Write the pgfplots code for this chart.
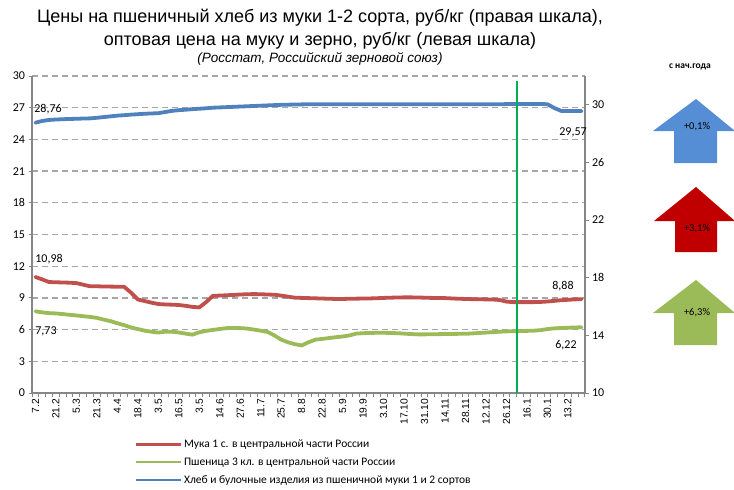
\documentclass[border=0pt]{standalone}
\usepackage{fontspec}
\setmainfont{Carlito}
\newfontfamily\arial{Liberation Sans}
\usepackage{pgfplots}
\pgfplotsset{compat=1.18}
\usepackage{pgfplotstable}

\definecolor{cred}{HTML}{C0504D}
\definecolor{cgreen}{HTML}{9BBB59}
\definecolor{cblue}{HTML}{4F81BD}
\definecolor{ablue}{HTML}{558ED5}
\definecolor{ared}{HTML}{C00000}
\definecolor{agreen}{HTML}{9BBB59}
\definecolor{vgreen}{HTML}{00B050}
\definecolor{gridc}{HTML}{A6A6A6}
\definecolor{axc}{HTML}{868686}

\pgfplotstableread{
i red green blue
0 10.98 7.73 28.76
1 10.75 7.63 28.88
2 10.50 7.56 28.95
3 10.48 7.53 28.98
4 10.46 7.47 29.00
5 10.44 7.40 29.02
6 10.40 7.34 29.03
7 10.25 7.27 29.05
8 10.10 7.20 29.06
9 10.10 7.11 29.10
10 10.08 6.95 29.15
11 10.07 6.80 29.20
12 10.06 6.60 29.25
13 10.05 6.42 29.28
14 9.50 6.20 29.32
15 8.85 6.05 29.35
16 8.70 5.90 29.38
17 8.55 5.80 29.40
18 8.42 5.72 29.42
19 8.38 5.80 29.50
20 8.36 5.80 29.58
21 8.33 5.73 29.63
22 8.25 5.62 29.66
23 8.15 5.52 29.70
24 8.10 5.75 29.73
25 8.60 5.88 29.76
26 9.20 5.97 29.80
27 9.22 6.06 29.82
28 9.25 6.14 29.84
29 9.28 6.15 29.86
30 9.32 6.14 29.88
31 9.35 6.10 29.90
32 9.36 6.00 29.92
33 9.35 5.90 29.94
34 9.32 5.78 29.96
35 9.30 5.45 29.98
36 9.22 5.05 30.00
37 9.12 4.80 30.01
38 9.02 4.62 30.02
39 9.00 4.50 30.03
40 8.98 4.80 30.04
41 8.96 5.05 30.04
42 8.94 5.12 30.04
43 8.92 5.20 30.04
44 8.90 5.28 30.04
45 8.90 5.35 30.04
46 8.92 5.45 30.04
47 8.93 5.62 30.04
48 8.94 5.66 30.04
49 8.95 5.68 30.04
50 8.97 5.70 30.04
51 9.00 5.70 30.04
52 9.02 5.68 30.04
53 9.04 5.66 30.04
54 9.05 5.62 30.04
55 9.05 5.58 30.04
56 9.04 5.55 30.04
57 9.02 5.55 30.04
58 9.00 5.56 30.04
59 9.00 5.57 30.04
60 8.98 5.58 30.04
61 8.95 5.59 30.04
62 8.92 5.60 30.04
63 8.90 5.60 30.04
64 8.88 5.64 30.04
65 8.87 5.68 30.04
66 8.86 5.72 30.04
67 8.85 5.76 30.04
68 8.80 5.80 30.04
69 8.65 5.83 30.05
70 8.60 5.85 30.06
71 8.60 5.86 30.06
72 8.60 5.88 30.06
73 8.60 5.90 30.06
74 8.62 5.95 30.06
75 8.66 6.05 30.04
76 8.72 6.12 29.78
77 8.78 6.15 29.58
78 8.82 6.18 29.57
79 8.86 6.20 29.57
80 8.88 6.22 29.57
}\data

\pgfplotsset{/pgf/number format/assume math mode=true}

\begin{document}
\begin{tikzpicture}
\useasboundingbox (0pt,0pt) rectangle (734pt,-490pt);

% titles
\node[font=\arial\fontsize{18}{20}\selectfont] at (320pt,-18pt) {Цены на пшеничный хлеб из муки 1-2 сорта, руб/кг (правая шкала),};
\node[font=\arial\fontsize{18}{20}\selectfont] at (320pt,-41pt) {оптовая цена на муку и зерно, руб/кг (левая шкала)};
\node[font=\arial\itshape\fontsize{13.5}{15}\selectfont] at (320pt,-59pt) {(Росстат, Российский зерновой союз)};

\begin{axis}[
  at={(32pt,-393pt)}, anchor=south west,
  scale only axis, width=553pt, height=317pt,
  xmin=-0.5, xmax=80.5, ymin=0, ymax=30,
  axis lines*=left,
  axis line style={draw=axc, line width=1.2pt},
  ytick={0,3,...,30},
  ymajorgrids,
  grid style={draw=gridc, dash pattern=on 6pt off 4pt, line width=1.3pt},
  xtick={0,3,...,78},
  xticklabels={7.2,21.2,5.3,21.3,4.4,18.4,3.5,16.5,3.5,14.6,27.6,11.7,25.7,8.8,22.8,5.9,19.9,3.10,17.10,31.10,14.11,28.11,12.12,26.12,16.1,30.1,13.2},
  minor xtick={-0.5,0.5,...,80.5},
  tick align=outside,
  major tick length=3.5pt, minor tick length=4pt,
  tick style={draw=axc, line width=1pt},
  major x tick style={draw=none},
  xticklabel style={font=\arial\fontsize{10.3}{12}\selectfont, rotate=90, anchor=east, inner sep=2pt},
  yticklabel style={font=\fontsize{12}{13}\selectfont},
  legend style={at={(0.186,-0.142)}, anchor=north west, draw=none, fill=none,
    font=\fontsize{11.5}{13}\selectfont, row sep=5.5pt, inner sep=0pt,
    nodes={inner sep=1.5pt}},
  legend cell align=left,
  legend image code/.code={\draw[#1, line width=2.5pt, line cap=butt] (0pt,0pt) -- (45pt,0pt);},
]
\addplot[cred, line width=3.8pt, line join=round, line cap=round] table[x=i,y=red]{\data};
\addlegendentry{Мука 1 с. в центральной части России}
\addplot[cgreen, line width=3.8pt, line join=round, line cap=round] table[x=i,y=green]{\data};
\addlegendentry{Пшеница 3 кл. в центральной части России}
\addlegendimage{cblue}
\addlegendentry{Хлеб и булочные изделия из пшеничной муки 1 и 2 сортов}
\end{axis}

\begin{axis}[
  at={(32pt,-393pt)}, anchor=south west,
  scale only axis, width=553pt, height=317pt,
  xmin=-0.5, xmax=80.5, ymin=10, ymax=32,
  axis x line=none, axis y line*=right,
  axis line style={draw=axc, line width=1.2pt},
  ytick={10,14,...,30},
  tick align=outside, major tick length=3.5pt,
  tick style={draw=axc, line width=1pt},
  yticklabel style={font=\fontsize{12}{13}\selectfont},
]
\addplot[cblue, line width=3.8pt, line join=round, line cap=round] table[x=i,y=blue]{\data};
\addplot[vgreen, line width=1.8pt] coordinates {(70.5,10) (70.5,31.64)};
\end{axis}

% data labels
\begin{scope}[font=\fontsize{12}{13}\selectfont]
\node at (48pt,-109pt) {28,76};
\node at (49pt,-259pt) {10,98};
\node at (46pt,-331pt) {7,73};
\node at (573pt,-132pt) {29,57};
\node at (563pt,-286pt) {8,88};
\node at (566pt,-345pt) {6,22};
\end{scope}

% right panel
\node[font=\bfseries\fontsize{9.5}{10}\selectfont] at (690pt,-67pt) {с нач.года};
\fill[ablue] (696pt,-99pt) -- (735pt,-131pt) -- (717pt,-131pt) -- (717pt,-163pt) -- (674pt,-163pt) -- (674pt,-131pt) -- (653pt,-131pt) -- cycle;
\fill[ared] (696pt,-187pt) -- (735pt,-221pt) -- (717pt,-221pt) -- (717pt,-252pt) -- (675pt,-252pt) -- (675pt,-221pt) -- (654pt,-221pt) -- cycle;
\fill[agreen] (696pt,-280pt) -- (735pt,-313pt) -- (717pt,-313pt) -- (717pt,-345pt) -- (674pt,-345pt) -- (674pt,-313pt) -- (653pt,-313pt) -- cycle;
\begin{scope}[font=\fontsize{10.5}{11}\selectfont]
\node at (697pt,-127pt) {+0,1\%};
\node at (697pt,-229pt) {+3,1\%};
\node at (697pt,-313pt) {+6,3\%};
\end{scope}
\end{tikzpicture}
\end{document}
